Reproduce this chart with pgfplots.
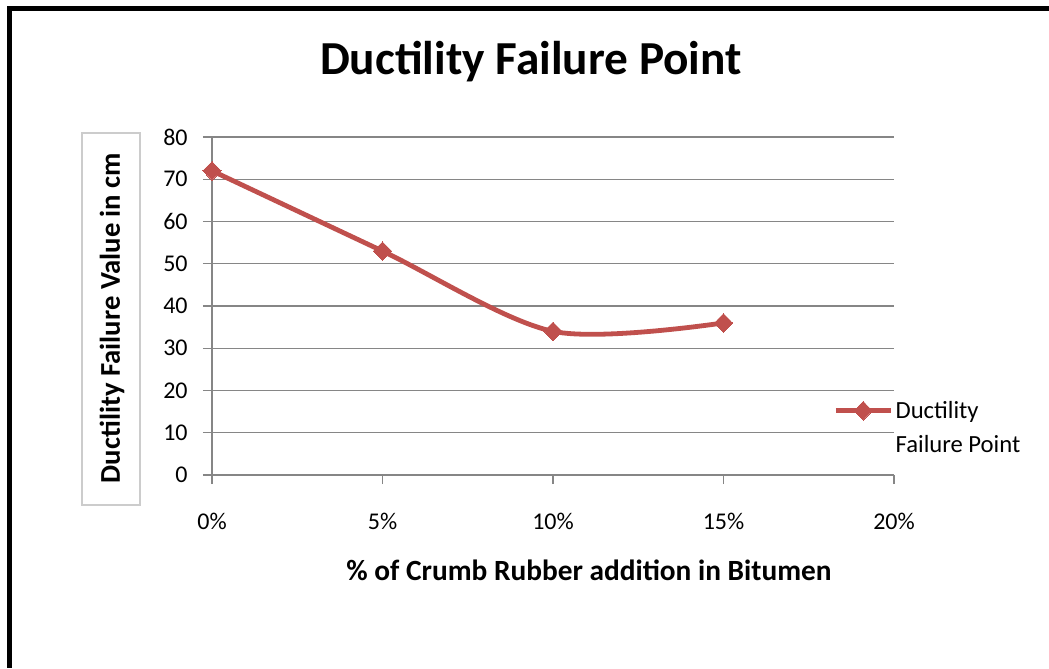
\documentclass[border=0pt]{standalone}
\usepackage{pgfplots}
\pgfplotsset{compat=1.18}
\usepackage{fontspec}
\setmainfont{Carlito}
\definecolor{serred}{HTML}{C0504D}
\definecolor{gridgray}{HTML}{868686}
\newcommand\tickfont{\fontsize{18}{20}\selectfont}
\begin{document}
\begin{tikzpicture}[x=0.75pt,y=0.75pt]
\useasboundingbox (0,0) rectangle (1049,668);
% frame of the chart object (only left and top edges visible)
\fill[black] (7,0) rectangle (12,662);
\fill[black] (7,657) rectangle (1049,662);
% title
\node[font=\bfseries\fontsize{35.5}{40}\selectfont] at (531,606) {Ductility Failure Point};
% y label in its box
\node[draw=black!20,line width=0.8pt,minimum width=43.5pt,minimum height=279pt,inner sep=0pt] at (111,349) {};
\node[rotate=90,font=\bfseries\fontsize{21.5}{24}\selectfont] at (112,350) {Ductility Failure Value in cm};
% x label
\node[font=\bfseries\fontsize{22}{25}\selectfont] at (589,98) {\% of Crumb Rubber addition in Bitumen};
\begin{axis}[
  at={(159pt,144.75pt)}, anchor=south west,
  scale only axis,
  width=511.5pt, height=253.5pt,
  xmin=0, xmax=20, ymin=0, ymax=80,
  xtick={0,5,10,15,20},
  ytick={0,10,...,80},
  xticklabel={\tickfont\pgfmathprintnumber{\tick}\%},
  yticklabel={\tickfont\pgfmathprintnumber{\tick}},
  axis x line*=bottom, axis y line*=left,
  axis line style={gridgray,line width=1.1pt,-},
  ymajorgrids=true,
  grid style={gridgray,line width=1.1pt},
  tick align=outside,
  major tick length=6.75pt,
  tick style={gridgray,line width=1.1pt},
  /pgf/number format/assume math mode=true,
  xticklabel style={yshift=-18pt},
  yticklabel style={xshift=-8pt},
  legend style={at={(0.905,0.235)},anchor=north west,draw=none,fill=none,
    font=\fontsize{18.5}{21}\selectfont,row sep=7pt,
    /tikz/every even column/.append style={column sep=2pt}},
  legend cell align=left,
  legend image code/.code={\draw[mark repeat=2,mark phase=2] plot coordinates {(0pt,0pt) (20.5pt,0pt) (41pt,0pt)};},
]
\addplot[serred,line width=3.6pt,smooth,tension=0.5,mark=diamond*,mark size=7pt,mark options={fill=serred,line width=0pt,xscale=1.3}]
  coordinates {(0,72) (5,53) (10,34) (15,36)};
\addlegendentry{Ductility}
\addlegendimage{empty legend}
\addlegendentry{Failure Point}
\end{axis}
\end{tikzpicture}
\end{document}
